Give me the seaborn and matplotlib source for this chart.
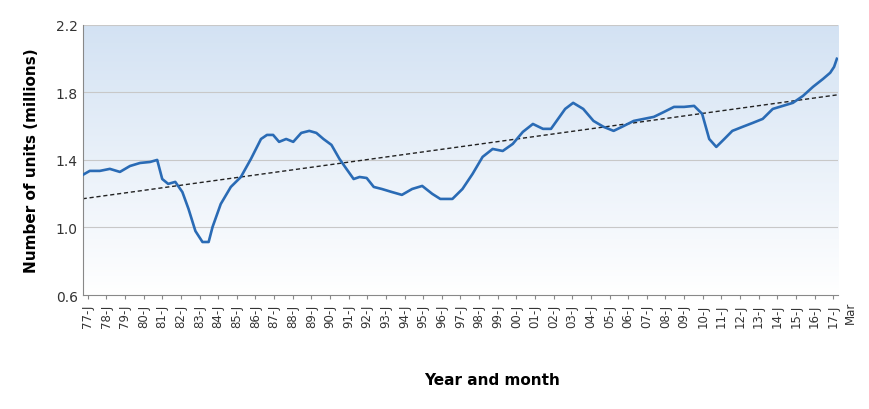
import numpy as np
import pandas as pd
import matplotlib
matplotlib.use("Agg")
import matplotlib.pyplot as plt
import matplotlib.transforms as mtransforms
import seaborn as sns

# Approximate readings from the reference (decimal year, millions of units)
years = [1976.73, 1977.11, 1977.65, 1978.19, 1978.73, 1979.27, 1979.81, 1980.35, 1980.73,
         1981.00, 1981.32, 1981.70, 1982.08, 1982.41, 1982.78, 1983.16, 1983.49, 1983.70,
         1984.14, 1984.68, 1985.22, 1985.76, 1986.30, 1986.62, 1986.95, 1987.27, 1987.65,
         1988.03, 1988.46, 1988.89, 1989.27, 1989.65, 1990.08, 1990.51, 1990.89, 1991.27,
         1991.59, 1991.97, 1992.35, 1992.78, 1993.32, 1993.86, 1994.41, 1994.95, 1995.49,
         1995.92, 1996.57, 1997.11, 1997.65, 1998.19, 1998.73, 1999.27, 1999.81, 2000.35,
         2000.89, 2001.43, 2001.86, 2002.24, 2002.62, 2003.05, 2003.59, 2004.14, 2004.68,
         2005.22, 2005.76, 2006.30, 2006.84, 2007.38, 2007.92, 2008.46, 2009.00, 2009.54,
         2009.97, 2010.35, 2010.73, 2011.16, 2011.59, 2012.14, 2012.68, 2013.22, 2013.76,
         2014.30, 2014.84, 2015.38, 2015.92, 2016.46, 2016.84, 2017.05, 2017.20]
units = [1.311, 1.335, 1.335, 1.347, 1.329, 1.364, 1.382, 1.388, 1.400,
         1.287, 1.258, 1.270, 1.210, 1.110, 0.979, 0.914, 0.914, 1.003,
         1.139, 1.240, 1.299, 1.406, 1.524, 1.548, 1.548, 1.507, 1.524,
         1.507, 1.560, 1.572, 1.560, 1.524, 1.489, 1.406, 1.346, 1.287,
         1.299, 1.293, 1.240, 1.228, 1.210, 1.193, 1.228, 1.246, 1.199,
         1.169, 1.169, 1.228, 1.317, 1.418, 1.465, 1.453, 1.495, 1.566,
         1.613, 1.584, 1.584, 1.643, 1.702, 1.738, 1.702, 1.631, 1.596,
         1.572, 1.601, 1.631, 1.643, 1.655, 1.684, 1.714, 1.714, 1.720,
         1.673, 1.524, 1.477, 1.524, 1.572, 1.596, 1.619, 1.643, 1.702,
         1.720, 1.738, 1.779, 1.833, 1.880, 1.916, 1.951, 1.999]
trend_years = [1976.73, 2017.20]
trend_units = [1.17, 1.785]

tick_years = list(range(1977, 2018))
tick_labels = [f"{y % 100:02d}-J" for y in tick_years]

df = pd.DataFrame({"year": years, "units": units})

fig = plt.figure(figsize=(8.7, 4.1), dpi=100)
ax = fig.add_axes([0.095, 0.278, 0.868, 0.659])

# Gradient background: light blue at top fading to white
grad = np.linspace(0, 1, 256).reshape(-1, 1)
cmap = matplotlib.colors.LinearSegmentedColormap.from_list("bg", ["#ffffff", "#d3e2f3"])
ax.imshow(grad, aspect="auto", cmap=cmap, origin="lower",
          extent=[1976.73, 2017.25, 0.6, 2.2], zorder=0)

for yv in [1.0, 1.4, 1.8, 2.2]:
    ax.axhline(yv, color="#c8c8c8", lw=0.8, zorder=1)

sns.lineplot(data=df, x="year", y="units", color="#2a6bb5", lw=1.9, ax=ax, zorder=3)
ax.plot(trend_years, trend_units, color="#222222", lw=1.0, ls=(0, (3, 2)), zorder=2)

ax.set_xlim(1976.73, 2017.25)
ax.set_ylim(0.6, 2.2)
ax.set_yticks([0.6, 1.0, 1.4, 1.8, 2.2])
ax.set_yticklabels(["0.6", "1.0", "1.4", "1.8", "2.2"], fontsize=10, color="#333333")
ax.set_xticks(tick_years)
ax.set_xticklabels(tick_labels, rotation=90, fontsize=8.5, color="#333333")
# "Mar" label sits just past the end of the axis
trans = mtransforms.blended_transform_factory(ax.transData, ax.transAxes)
ax.text(2017.9, -0.02, "Mar", transform=trans, rotation=90, ha="center", va="top",
        fontsize=8.5, color="#333333", clip_on=False)
ax.tick_params(axis="x", length=3, color="#888888")
ax.tick_params(axis="y", length=0)
for s in ["top", "right"]:
    ax.spines[s].set_visible(False)
ax.spines["left"].set_color("#888888")
ax.spines["bottom"].set_color("#888888")

ax.set_xlabel("")
ax.set_ylabel("Number of units (millions)", fontsize=11, fontweight="bold", labelpad=12)
fig.text(0.565, 0.06, "Year and month", ha="center", fontsize=11, fontweight="bold")

fig.savefig("out.png", dpi=100)
